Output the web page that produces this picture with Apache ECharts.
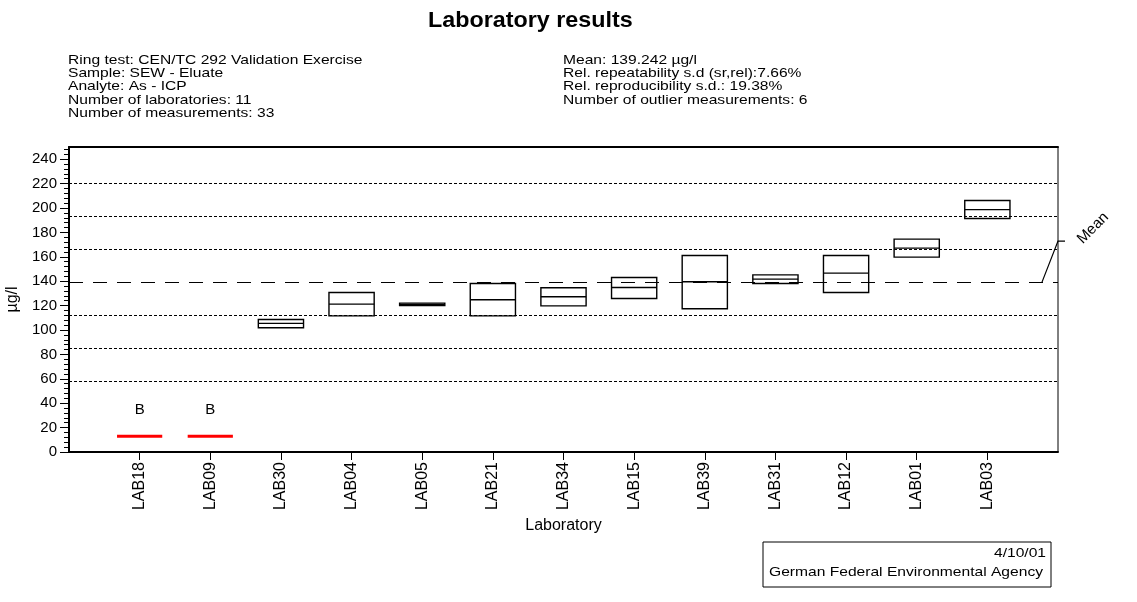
<!DOCTYPE html>
<html>
<head>
<meta charset="utf-8">
<title>Laboratory results</title>
<script src="https://cdn.jsdelivr.net/npm/echarts@6/dist/echarts.min.js"></script>
<style>
  html, body { margin: 0; padding: 0; background: #fff; }
  #chart { width: 1137px; height: 602px; }
</style>
</head>
<body>
<div id="chart"></div>
<script>
// 数据
const labs = ["LAB18", "LAB09", "LAB30", "LAB04", "LAB05", "LAB21", "LAB34", "LAB15", "LAB39", "LAB31", "LAB12", "LAB01", "LAB03"];
const boxLow = [null, null, 101.9, 111.6, 120.0, 111.6, 119.8, 125.8, 117.4, 138.1, 130.7, 159.7, 191.4];
const boxMid = [null, null, 105.4, 121.2, 121.0, 124.8, 127.2, 134.8, 139.5, 141.7, 146.6, 167.1, 198.7];
const boxHigh = [null, null, 108.6, 130.7, 122.0, 138.1, 134.6, 143.0, 161.1, 145.2, 161.1, 174.5, 206.1];
const outlierValue = [13, 13, null, null, null, null, null, null, null, null, null, null, null];
const outlierCode = ["B", "B", "", "", "", "", "", "", "", "", "", "", ""];
const meanValue = 139.242;
const sdLines = [58.3, 85.3, 112.3, 166.2, 193.2, 220.2];
const yTickValues = [0, 20, 40, 60, 80, 100, 120, 140, 160, 180, 200, 220, 240];
const yRange = { min: 0, max: 250, step: 20 };

const infoLeft = [
  "Ring test: CEN/TC 292 Validation Exercise",
  "Sample: SEW - Eluate",
  "Analyte: As - ICP",
  "Number of laboratories: 11",
  "Number of measurements: 33"
];
const infoRight = [
  "Mean: 139.242 µg/l",
  "Rel. repeatability s.d (sr,rel):7.66%",
  "Rel. reproducibility s.d.: 19.38%",
  "Number of outlier measurements: 6"
];

const FONT = "Liberation Sans, Arial, sans-serif";

(function () {
  let myChart = echarts.init(document.getElementById("chart"));

  // x 轴两端留空位
  const cats = [""].concat(labs, [""]);

  const boxData = [];
  const outData = [];
  labs.forEach(function (l, i) {
    if (boxLow[i] != null) boxData.push([i + 1, boxLow[i], boxMid[i], boxHigh[i]]);
    if (outlierValue[i] != null) outData.push({ value: [i + 1, outlierValue[i]], code: outlierCode[i] });
  });

  const refLines = [{ yAxis: meanValue, lineStyle: { type: [14, 10], color: "#000", width: 1 } }];
  sdLines.forEach(function (v) {
    refLines.push({ yAxis: v, lineStyle: { type: [3, 2], color: "#000", width: 1 } });
  });

  let option = {
    animation: false,
    backgroundColor: "#fff",
    grid: {
      left: 69,
      right: 79,
      top: 147,
      bottom: 150,
      outerBoundsMode: "none",
      show: true,
      borderColor: "#000",
      borderWidth: 1,
      backgroundColor: "transparent"
    },
    graphic: [
      {
        type: "text", x: 428, y: 10, scaleX: 1.06,
        style: { text: "Laboratory results", font: "bold 22px " + FONT, fill: "#000", textAlign: "left", textVerticalAlign: "top" }
      },
      {
        type: "text", x: 68, y: 53.5, scaleX: 1.2,
        style: { text: infoLeft.join("\n"), font: "13px " + FONT, lineHeight: 13.3, fill: "#000", textAlign: "left", textVerticalAlign: "top" }
      },
      {
        type: "text", x: 563, y: 53.5, scaleX: 1.2,
        style: { text: infoRight.join("\n"), font: "13px " + FONT, lineHeight: 13.3, fill: "#000", textAlign: "left", textVerticalAlign: "top" }
      },
      {
        type: "rect",
        shape: { x: 763, y: 542, width: 288, height: 45 },
        style: { fill: "none", stroke: "#000", lineWidth: 1 }
      },
      {
        type: "text", x: 1046, y: 553, scaleX: 1.2,
        style: { text: "4/10/01", font: "13px " + FONT, fill: "#000", textAlign: "right", textVerticalAlign: "middle" }
      },
      {
        type: "text", x: 769, y: 572, scaleX: 1.2,
        style: { text: "German Federal Environmental Agency", font: "13px " + FONT, fill: "#000", textAlign: "left", textVerticalAlign: "middle" }
      }
    ],
    xAxis: [
      {
        type: "category",
        data: cats,
        boundaryGap: false,
        name: "Laboratory",
        nameLocation: "middle",
        nameGap: 63,
        nameTextStyle: { color: "#000", fontSize: 16, fontFamily: FONT },
        axisLine: { lineStyle: { color: "#000", width: 2 } },
        axisTick: {
          length: 8,
          lineStyle: { color: "#000", width: 1 },
          interval: function (idx, val) { return val !== ""; }
        },
        axisLabel: {
          interval: 0,
          rotate: 90,
          margin: 10,
          color: "#000",
          fontSize: 16,
          fontFamily: FONT
        },
        splitLine: { show: false }
      },
      {
        // 顶部边框
        type: "category",
        position: "top",
        data: cats,
        boundaryGap: false,
        axisLine: { lineStyle: { color: "#000", width: 2 } },
        axisTick: { show: false },
        axisLabel: { show: false },
        splitLine: { show: false }
      }
    ],
    yAxis: {
      type: "value",
      min: yRange.min,
      max: yRange.max,
      interval: yRange.step,
      name: "µg/l",
      nameLocation: "middle",
      nameRotate: 90,
      nameGap: 37,
      nameTextStyle: { color: "#000", fontSize: 16, fontFamily: FONT },
      axisLine: { show: true, lineStyle: { color: "#000", width: 2 } },
      axisTick: { show: true, length: 9, customValues: yTickValues, lineStyle: { color: "#000", width: 1 } },
      minorTick: { show: true, splitNumber: 5, length: 5, lineStyle: { color: "#000", width: 1 } },
      axisLabel: {
        margin: 12,
        color: "#000",
        fontSize: 15,
        fontFamily: FONT,
        customValues: yTickValues,
        formatter: function (v) { return yTickValues.indexOf(v) >= 0 ? v : ""; }
      },
      splitLine: { show: false }
    },
    series: [
      {
        name: "boxes",
        type: "custom",
        data: boxData,
        encode: { x: 0, y: [1, 2, 3] },
        renderItem: function (params, api) {
          const x = api.value(0);
          const lo = api.coord([x, api.value(1)]);
          const mid = api.coord([x, api.value(2)]);
          const hi = api.coord([x, api.value(3)]);
          const w = api.size([1, 0])[0] * 0.64;
          const st = { fill: "none", stroke: "#000", lineWidth: 1.4 };
          return {
            type: "group",
            children: [
              { type: "rect", shape: { x: lo[0] - w / 2, y: hi[1], width: w, height: lo[1] - hi[1] }, style: st },
              { type: "line", shape: { x1: lo[0] - w / 2, y1: mid[1], x2: lo[0] + w / 2, y2: mid[1] }, style: st }
            ]
          };
        },
        markLine: {
          silent: true,
          symbol: ["none", "none"],
          label: { show: false },
          data: refLines
        }
      },
      {
        name: "outliers",
        type: "custom",
        data: outData,
        encode: { x: 0, y: 1 },
        renderItem: function (params, api) {
          const p = api.coord([api.value(0), api.value(1)]);
          const w = api.size([1, 0])[0] * 0.64;
          const code = outData[params.dataIndex].code;
          return {
            type: "group",
            children: [
              { type: "line", shape: { x1: p[0] - w / 2, y1: p[1], x2: p[0] + w / 2, y2: p[1] }, style: { stroke: "#ff0000", lineWidth: 3 } },
              {
                type: "text", x: p[0], y: p[1] - 26,
                style: { text: code, font: "15px " + FONT, fill: "#000", align: "center", verticalAlign: "middle", textAlign: "center", textVerticalAlign: "middle" }
              }
            ]
          };
        }
      },
      {
        // Mean 标注
        name: "meanLabel",
        type: "custom",
        clip: false,
        data: [[0, meanValue]],
        encode: { x: 0, y: 1 },
        renderItem: function (params, api) {
          const cs = params.coordSys;
          const right = cs.x + cs.width;
          const y = api.coord([0, api.value(1)])[1];
          return {
            type: "group",
            children: [
              { type: "polyline", shape: { points: [[right - 16, y], [right, y - 41], [right + 7, y - 41]] }, style: { fill: "none", stroke: "#000", lineWidth: 1.2 } },
              {
                type: "text", x: right + 35, y: y - 54, rotation: Math.PI / 4,
                style: { text: "Mean", font: "15px " + FONT, fill: "#000", align: "center", verticalAlign: "middle", textAlign: "center", textVerticalAlign: "middle" }
              }
            ]
          };
        }
      }
    ]
  };

  myChart.setOption(option);
  window.addEventListener("resize", function () {
    myChart.resize();
  });
})();
</script>
</body>
</html>
